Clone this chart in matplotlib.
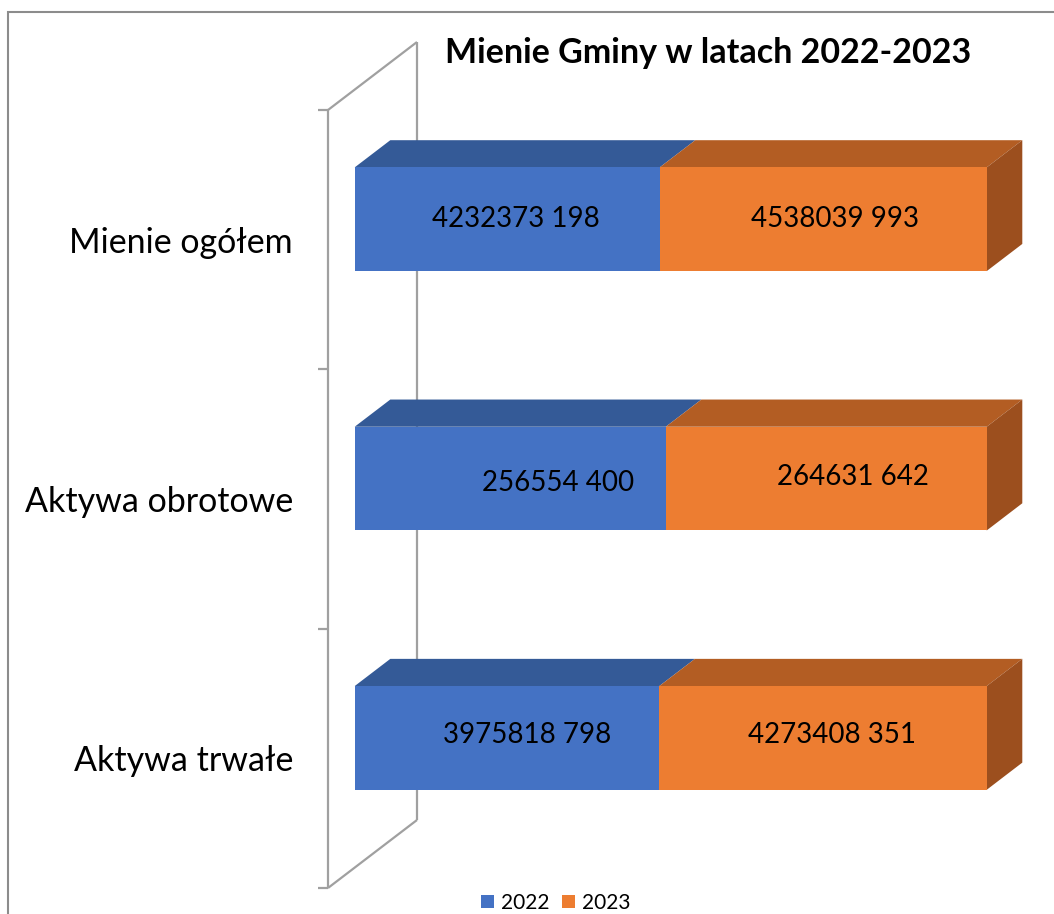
import matplotlib.pyplot as plt
from matplotlib.patches import Polygon, Rectangle, Patch

# data
categories = ["Aktywa trwałe", "Aktywa obrotowe", "Mienie ogółem"]
years = ["2022", "2023"]
v2022 = [3975818798, 256554400, 4232373198]
v2023 = [4273408351, 264631642, 4538039993]
title = "Mienie Gminy w latach 2022-2023"

front_cols = ["#4472C4", "#ED7D31"]
top_cols = ["#345A97", "#B35D23"]
side_cols = ["#2F5597", "#9C4F1E"]
wall_col = "#a0a0a0"

plt.rcParams['font.family'] = ['Lato', 'DejaVu Sans']

W, H = 1054, 914
fig = plt.figure(figsize=(W / 100, H / 100), dpi=100)
ax = fig.add_axes([328 / W, 26 / H, 632 / W, 778 / H])
ax.set_xlim(0, 1)
ax.set_ylim(-0.5, len(categories) - 0.5)
ax.axis('off')

# oblique depth offset (full depth of the plot) in data units
DX = 89 / 632
DY = 68 / (778 / 3)
d0, d1 = 0.3, 0.7     # bar front / back depth
bh = 0.4              # bar height


def p(x, y, d):
    return (x + d * DX, y + d * DY)


def box(x0, x1, yc, k, side):
    yb, yt = yc - bh / 2, yc + bh / 2
    front = [p(x0, yb, d0), p(x1, yb, d0), p(x1, yt, d0), p(x0, yt, d0)]
    top = [p(x0, yt, d0), p(x1, yt, d0), p(x1, yt, d1), p(x0, yt, d1)]
    ax.add_patch(Polygon(top, closed=True, fc=top_cols[k], ec='none', zorder=3, clip_on=False))
    ax.add_patch(Polygon(front, closed=True, fc=front_cols[k], ec='none', zorder=4, clip_on=False))
    if side:
        sd = [p(x1, yb, d0), p(x1, yt, d0), p(x1, yt, d1), p(x1, yb, d1)]
        ax.add_patch(Polygon(sd, closed=True, fc=side_cols[k], ec='none', zorder=3, clip_on=False))


# wall / axis lines
y_lo, y_hi = -0.5, len(categories) - 0.5
kw = dict(color=wall_col, lw=1.6, zorder=1, clip_on=False, solid_capstyle='butt')
ax.plot([0, 0], [y_lo, y_hi], **kw)
ax.plot(*zip(p(0, y_lo, 1), p(0, y_hi, 1)), **kw)
ax.plot(*zip(p(0, y_lo, 0), p(0, y_lo, 1)), **kw)
ax.plot(*zip(p(0, y_hi, 0), p(0, y_hi, 1)), **kw)
for t in range(len(categories) + 1):
    ax.plot([-10 / 632, 0], [t - 0.5, t - 0.5], **kw)

# label nudges (pixels) to follow the original placement
nudge = {(0, 0): (20, -3), (0, 1): (9, -3), (1, 0): (48, 4), (1, 1): (27, -2),
         (2, 0): (9, 0), (2, 1): (12, 0)}

for i, cat in enumerate(categories):
    tot = v2022[i] + v2023[i]
    f = v2022[i] / tot
    box(0, f, i, 0, False)
    box(f, 1, i, 1, True)
    for k, (a, b, v) in enumerate([(0, f, v2022[i]), (f, 1, v2023[i])]):
        cx, cy = p((a + b) / 2, i, d0)
        nx, ny = nudge[(i, k)]
        cx += nx / 632
        cy -= ny / (778 / 3)
        ax.text(cx, cy, f"{v // 1000} {v % 1000:03d}", ha='center', va='center',
                fontsize=20, color='black', zorder=5)
    ax.text(-35 / 632, i - 3 / (778 / 3), cat, ha='right', va='center',
            fontsize=24.5, color='black')

fig.text(708 / W, 1 - 53 / H, title, ha='center', va='center', fontsize=24.5,
         fontweight='bold')

handles = [Patch(fc=c, ec='none') for c in front_cols]
fig.legend(handles, years, loc='center', bbox_to_anchor=(556 / W, 1 - 903 / H),
           ncol=2, frameon=False, fontsize=15, handlelength=0.6, handleheight=0.6,
           handletextpad=0.35, columnspacing=0.6)

# chart border (clipped by image edges)
fig.add_artist(Rectangle((8 / W, -0.1), 2, 1.1 - 12 / H, transform=fig.transFigure,
                         fill=False, ec='#8c8c8c', lw=1.5))

fig.savefig('out.png', dpi=100)
